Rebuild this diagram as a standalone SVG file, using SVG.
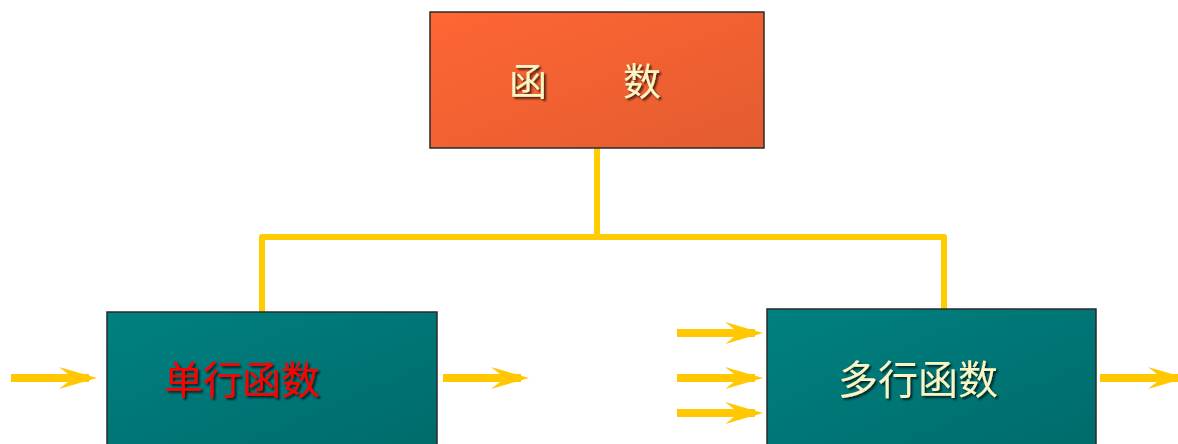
<svg xmlns="http://www.w3.org/2000/svg" width="1178" height="444" viewBox="0 0 1178 444">
<defs>
<linearGradient id="gOrange" x1="0" y1="0" x2="1" y2="1">
<stop offset="0" stop-color="#FF6633"/>
<stop offset="1" stop-color="#E35C30"/>
</linearGradient>
<linearGradient id="gTeal" x1="0" y1="0" x2="1" y2="1">
<stop offset="0" stop-color="#008080"/>
<stop offset="1" stop-color="#006B6B"/>
</linearGradient>
<filter id="shadow" x="-10%" y="-20%" width="130%" height="150%">
<feDropShadow dx="2" dy="2" stdDeviation="1" flood-color="#000" flood-opacity="0.7"/>
</filter>
<symbol id="arrow" overflow="visible">
<rect x="0" y="-4" width="78" height="8"/>
<polygon points="48,-11 86,0 48,11 62,0"/>
</symbol>
</defs>
<style>
.box{stroke:#2a2a2a;stroke-width:1.5}
.lbl{font-family:"Noto Sans CJK SC","Noto Sans CJK JP",sans-serif;filter:url(#shadow)}
.cream{fill:#FAF5C4}
.red{fill:#FF0000}
.conn{fill:none;stroke:#FFCC00;stroke-width:6;stroke-linejoin:round}
.arr{fill:#FFC800}
</style>
<rect width="1178" height="444" fill="#FFFFFF"/>
<g id="connectors">
<path class="conn" d="M597,148 V237"/>
<path class="conn" d="M262,312 V237 H944 V309"/>
</g>
<g id="arrows" class="arr">
<use href="#arrow" x="11" y="378"/>
<use href="#arrow" x="443" y="378"/>
<use href="#arrow" x="677" y="333"/>
<use href="#arrow" x="677" y="378"/>
<use href="#arrow" x="677" y="413"/>
<use href="#arrow" x="1100" y="378"/>
</g>
<g id="node-functions">
<rect class="box" x="430" y="12" width="334" height="136" fill="url(#gOrange)"/>
<text class="lbl cream" x="509" y="95" font-size="38">函　　数</text>
</g>
<g id="node-single">
<rect class="box" x="107" y="312" width="330" height="140" fill="url(#gTeal)"/>
<text class="lbl red" x="164" y="394" font-size="39">单行函数</text>
</g>
<g id="node-multi">
<rect class="box" x="767" y="309" width="329" height="143" fill="url(#gTeal)"/>
<text class="lbl cream" x="838" y="394" font-size="40">多行函数</text>
</g>
</svg>
